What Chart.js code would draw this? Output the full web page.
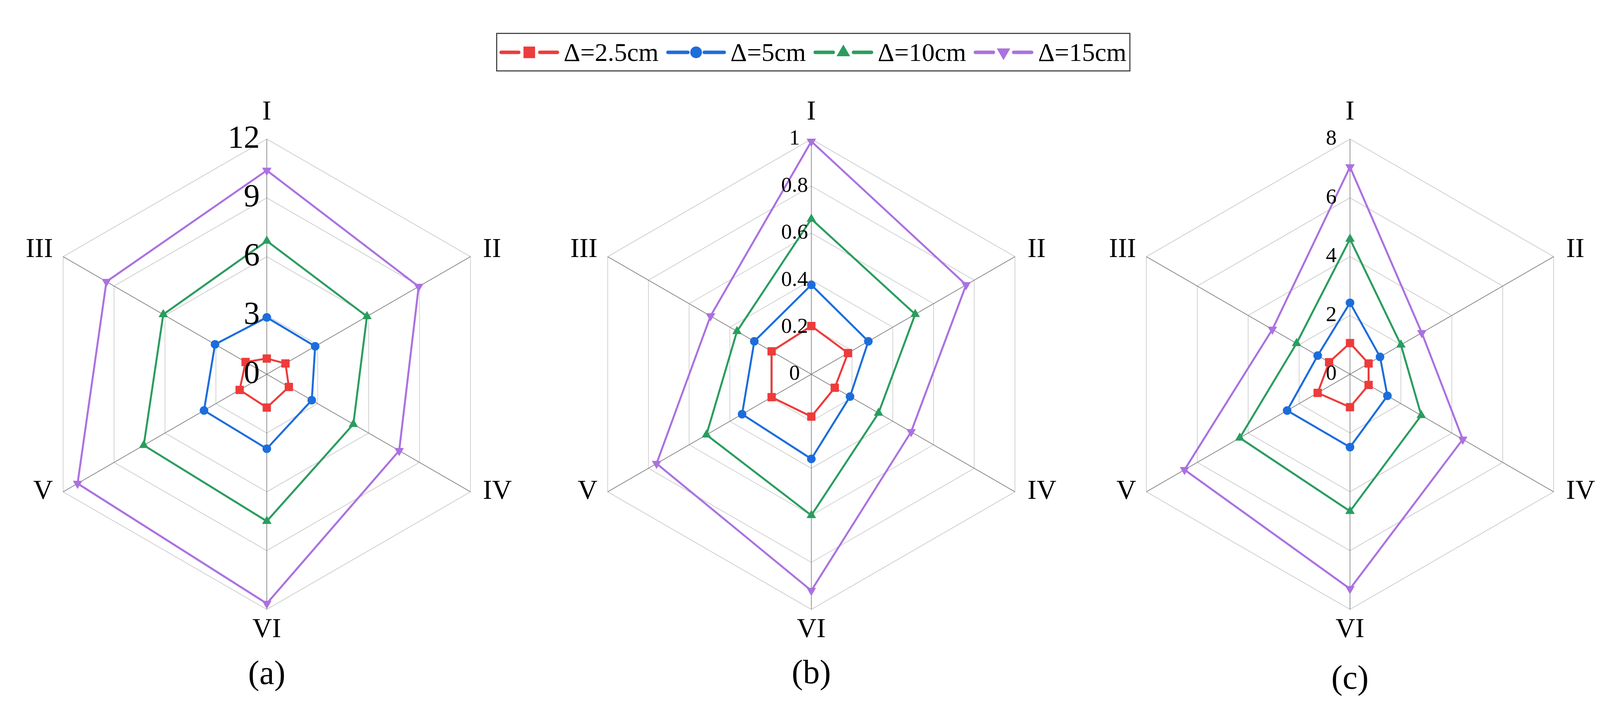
<!DOCTYPE html>
<html>
<head>
<meta charset="utf-8">
<script src="https://cdn.jsdelivr.net/npm/chart.js@4.4.1/dist/chart.umd.min.js"></script>
<style>
  html, body { margin: 0; padding: 0; background: #fff; }
  body { width: 4155px; height: 1838px; position: relative; overflow: hidden; font-family: 'Liberation Serif', serif; }
  .panel { position: absolute; top: 0; width: 1400px; height: 1838px; }
  #legend { position: absolute; left: 1270px; top: 84px; width: 1624px; height: 99px; box-sizing: border-box;
            border: 3px solid #4a4a4a; display: flex; align-items: center; padding-left: 4px; }
  .item { display: flex; align-items: center; margin-right: 18px; }
  .item canvas { margin-right: 10px; }
  .item span { font-size: 66px; line-height: 1; color: #000; }
</style>
</head>
<body>
<div id="legend"></div>
<div class="panel" style="left:-17px"><canvas id="chartA"></canvas></div>
<div class="panel" style="left:1377px"><canvas id="chartB"></canvas></div>
<div class="panel" style="left:2756px"><canvas id="chartC"></canvas></div>
<script>
// axes, clockwise from the top
const axisLabels = ['I', 'II', 'IV', 'VI', 'V', 'III'];
const seriesNames = ['\u0394=2.5cm', '\u0394=5cm', '\u0394=10cm', '\u0394=15cm'];
const seriesColors = ['#ee3b3b', '#1c6ddc', '#2a9d5e', '#ab71e0'];
const pointStyles = ['rect', 'circle', 'triangle', 'triangle'];
const pointRotations = [0, 0, 0, 180];
const markerRadius = [15, 11, 14, 14];
const legendRadius = [21, 15, 20, 20];

// (a)
const a25 = [0.8, 1.1, 1.3, 1.7, 1.6, 1.25];
const a5 = [2.9, 2.85, 2.65, 3.8, 3.7, 3.05];
const a10 = [6.8, 5.9, 5.1, 7.5, 7.25, 6.1];
const a15 = [10.4, 8.95, 7.8, 11.7, 11.15, 9.45];

// (b)
const b25 = [0.205, 0.18, 0.115, 0.18, 0.195, 0.195];
const b5 = [0.38, 0.28, 0.19, 0.36, 0.34, 0.28];
const b10 = [0.66, 0.51, 0.33, 0.6, 0.515, 0.365];
const b15 = [0.99, 0.76, 0.49, 0.92, 0.76, 0.495];

// (c)
const c25 = [1.06, 0.73, 0.73, 1.12, 1.27, 0.82];
const c5 = [2.43, 1.18, 1.47, 2.48, 2.47, 1.27];
const c10 = [4.6, 2.0, 2.8, 4.66, 4.33, 2.1];
const c15 = [7.05, 2.82, 4.43, 7.3, 6.5, 3.05];

const serif = "'Liberation Serif', 'Times New Roman', serif";

// numbers on the I axis, left of the axis line
const tickLabelPlugin = {
  id: 'tickLabels',
  afterDatasetsDraw(chart, args, opts) {
    const s = chart.scales.r;
    const ctx = chart.ctx;
    ctx.save();
    ctx.font = opts.size + 'px ' + serif;
    ctx.fillStyle = '#000';
    ctx.textAlign = opts.align;
    ctx.textBaseline = 'middle';
    s.ticks.forEach(t => {
      const y = s.yCenter - s.getDistanceFromCenterForValue(t.value);
      ctx.fillText(t.label, s.xCenter - opts.dx, y);
    });
    ctx.restore();
  }
};

// roman numerals at the hexagon corners
const axisLabelPlugin = {
  id: 'axisLabels',
  afterDraw(chart) {
    const s = chart.scales.r;
    const ctx = chart.ctx;
    ctx.save();
    ctx.font = '70px ' + serif;
    ctx.fillStyle = '#000';
    ctx.textBaseline = 'middle';
    chart.data.labels.forEach((lab, i) => {
      const p = s.getPointPosition(i, s.drawingArea);
      const deg = Math.round(s.getIndexAngle(i) * 180 / Math.PI);
      let x = p.x, y = p.y;
      if (deg === 0) { ctx.textAlign = 'center'; y -= 68; }
      else if (deg === 180) { ctx.textAlign = 'center'; y += 53; }
      else if (deg < 180) { ctx.textAlign = 'left'; x += 32; y += deg < 90 ? -17 : 0; }
      else { ctx.textAlign = 'right'; x -= 26; y += deg > 270 ? -17 : 0; }
      ctx.fillText(lab, x, y);
    });
    ctx.restore();
  }
};

function makeRadar(id, series, o) {
  return new Chart(document.getElementById(id), {
    type: 'radar',
    data: {
      labels: axisLabels,
      datasets: series.map((vals, i) => ({
        label: seriesNames[i],
        data: vals,
        borderColor: seriesColors[i],
        backgroundColor: seriesColors[i],
        borderWidth: 5,
        fill: false,
        tension: 0,
        pointStyle: pointStyles[i],
        rotation: pointRotations[i],
        pointRadius: markerRadius[i],
        pointBorderWidth: 0,
        pointBackgroundColor: seriesColors[i]
      }))
    },
    options: {
      responsive: true,
      maintainAspectRatio: false,
      animation: false,
      layout: { padding: { left: 98, right: 98, top: 308, bottom: 126.4 - o.capPad } },
      scales: {
        r: {
          min: 0,
          max: o.max,
          ticks: { stepSize: o.step, display: false, callback: v => String(+v.toFixed(2)) },
          grid: { color: '#c8c8c8', lineWidth: 1.6 },
          angleLines: { color: '#7a7a7a', lineWidth: 1.6 },
          pointLabels: { display: false }
        }
      },
      plugins: {
        legend: { display: false },
        tooltip: { enabled: false },
        title: {
          display: true,
          position: 'bottom',
          text: o.caption,
          color: '#000',
          font: { family: serif, size: 86, weight: 'normal', lineHeight: 1.2 },
          padding: { top: o.capPad, bottom: 0 }
        },
        tickLabels: { size: o.tickSize, align: o.tickAlign, dx: o.tickDx }
      }
    },
    plugins: [tickLabelPlugin, axisLabelPlugin]
  });
}

makeRadar('chartA', [a25, a5, a10, a15], { max: 12, step: 3, caption: '(a)', capPad: 68, tickSize: 82, tickAlign: 'right', tickDx: 18 });
makeRadar('chartB', [b25, b5, b10, b15], { max: 1, step: 0.2, caption: '(b)', capPad: 66, tickSize: 55, tickAlign: 'center', tickDx: 43 });
makeRadar('chartC', [c25, c5, c10, c15], { max: 8, step: 2, caption: '(c)', capPad: 80, tickSize: 55, tickAlign: 'center', tickDx: 48 });

// legend shared by the three panels
const legendEl = document.getElementById('legend');
seriesNames.forEach((name, i) => {
  const item = document.createElement('div');
  item.className = 'item';
  const c = document.createElement('canvas');
  c.width = 156;
  c.height = 46;
  const g = c.getContext('2d');
  const r = legendRadius[i];
  g.strokeStyle = seriesColors[i];
  g.fillStyle = seriesColors[i];
  g.lineWidth = 9;
  g.lineCap = 'round';
  g.beginPath();
  g.moveTo(6, 23); g.lineTo(78 - r - 6, 23);
  g.moveTo(78 + r + 6, 23); g.lineTo(150, 23);
  g.stroke();
  Chart.helpers.drawPoint(g, { pointStyle: pointStyles[i], rotation: pointRotations[i], radius: r, borderWidth: 0 }, 78, 23);
  const span = document.createElement('span');
  span.textContent = name;
  item.appendChild(c);
  item.appendChild(span);
  legendEl.appendChild(item);
});
</script>
</body>
</html>
